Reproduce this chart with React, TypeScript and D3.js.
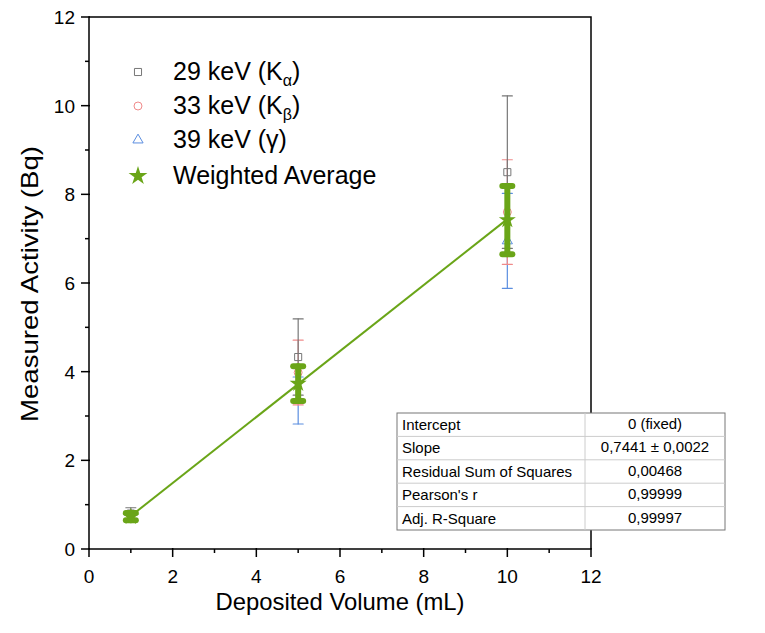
import React, { useEffect, useRef } from "react";
import * as d3 from "d3";

// deposited volume (mL)
const volumes = [1, 5, 10];

// measured activity (Bq) and errors
const kAlphaValues = [0.8, 4.33, 8.5];
const kAlphaErrors = [0.13, 0.86, 1.72];
const kBetaValues = [0.74, 3.98, 7.6];
const kBetaErrors = [0.1, 0.73, 1.18];
const gammaValues = [0.7, 3.35, 6.95];
const gammaErrors = [0.09, 0.53, 1.07];
const avgValues = [0.73, 3.73, 7.42];
const avgErrors = [0.08, 0.39, 0.77];

const fitSlope = 0.7441;

const legendLabels = ["29 keV (K", "33 keV (K", "39 keV (", "Weighted Average"];

const tableRows = [
  ["Intercept", "0 (fixed)"],
  ["Slope", "0,7441 ± 0,0022"],
  ["Residual Sum of Squares", "0,00468"],
  ["Pearson's r", "0,99999"],
  ["Adj. R-Square", "0,99997"],
];

const xTicks = [0, 2, 4, 6, 8, 10, 12];
const yTicks = [0, 2, 4, 6, 8, 10, 12];

const FONT = "Liberation Sans, Arial, sans-serif";

export default function App() {
  const svgRef = useRef<SVGSVGElement>(null);

  useEffect(() => {
    const width = 765;
    const height = 633;
    const margin = { top: 17, right: 174, bottom: 84, left: 89 };

    const svg = d3.select(svgRef.current);
    svg.selectAll("*").remove();
    svg.attr("width", width).attr("height", height);

    const x = d3.scaleLinear().domain([0, 12]).range([margin.left, width - margin.right]);
    const y = d3.scaleLinear().domain([0, 12]).range([height - margin.bottom, margin.top]);

    // frame
    svg.append("rect")
      .attr("x", x(0))
      .attr("y", y(12))
      .attr("width", x(12) - x(0))
      .attr("height", y(0) - y(12))
      .attr("fill", "none")
      .attr("stroke", "#000")
      .attr("stroke-width", 1.5);

    // bottom axis
    const xAxis = svg.append("g").attr("transform", `translate(0, ${y(0)})`);
    xAxis.selectAll("line.minor")
      .data(d3.range(1, 12, 2))
      .enter()
      .append("line")
      .attr("x1", d => x(d))
      .attr("x2", d => x(d))
      .attr("y1", 0)
      .attr("y2", 4)
      .attr("stroke", "#000")
      .attr("stroke-width", 1.5);
    xAxis.selectAll("line.major")
      .data(xTicks)
      .enter()
      .append("line")
      .attr("x1", d => x(d))
      .attr("x2", d => x(d))
      .attr("y1", -1)
      .attr("y2", 8)
      .attr("stroke", "#000")
      .attr("stroke-width", 1.5);
    xAxis.selectAll("text")
      .data(xTicks)
      .enter()
      .append("text")
      .attr("x", d => x(d))
      .attr("y", 34)
      .attr("text-anchor", "middle")
      .style("font-family", FONT)
      .style("font-size", "19px")
      .text(d => d);

    // left axis
    const yAxis = svg.append("g").attr("transform", `translate(${x(0)}, 0)`);
    yAxis.selectAll("line.minor")
      .data(d3.range(1, 12, 2))
      .enter()
      .append("line")
      .attr("x1", -4)
      .attr("x2", 0)
      .attr("y1", d => y(d))
      .attr("y2", d => y(d))
      .attr("stroke", "#000")
      .attr("stroke-width", 1.5);
    yAxis.selectAll("line.major")
      .data(yTicks)
      .enter()
      .append("line")
      .attr("x1", -8)
      .attr("x2", 1)
      .attr("y1", d => y(d))
      .attr("y2", d => y(d))
      .attr("stroke", "#000")
      .attr("stroke-width", 1.5);
    yAxis.selectAll("text")
      .data(yTicks)
      .enter()
      .append("text")
      .attr("x", -14)
      .attr("y", d => y(d) + 7)
      .attr("text-anchor", "end")
      .style("font-family", FONT)
      .style("font-size", "19px")
      .text(d => d);

    // axis titles
    svg.append("text")
      .attr("x", (x(0) + x(12)) / 2)
      .attr("y", 610)
      .attr("text-anchor", "middle")
      .attr("textLength", 249)
      .attr("lengthAdjust", "spacingAndGlyphs")
      .style("font-family", FONT)
      .style("font-size", "24px")
      .text("Deposited Volume (mL)");

    svg.append("text")
      .attr("text-anchor", "middle")
      .attr("transform", `translate(38, ${(y(0) + y(12)) / 2 + 1}) rotate(-90)`)
      .attr("textLength", 276)
      .attr("lengthAdjust", "spacingAndGlyphs")
      .style("font-family", FONT)
      .style("font-size", "24px")
      .text("Measured Activity (Bq)");

    // error bars
    const drawErrors = (vals, errs, color, capW, lw) => {
      const g = svg.append("g");
      volumes.forEach((v, i) => {
        const lo = y(vals[i] - errs[i]);
        const hi = y(vals[i] + errs[i]);
        g.append("line")
          .attr("x1", x(v)).attr("x2", x(v))
          .attr("y1", lo).attr("y2", hi)
          .attr("stroke", color).attr("stroke-width", lw)
          .attr("stroke-linecap", "round");
        [lo, hi].forEach(cy => {
          g.append("line")
            .attr("x1", x(v) - capW / 2).attr("x2", x(v) + capW / 2)
            .attr("y1", cy).attr("y2", cy)
            .attr("stroke", color).attr("stroke-width", lw)
            .attr("stroke-linecap", "round");
        });
      });
    };

    drawErrors(gammaValues, gammaErrors, "#5b8ee0", 10, 1.2);
    drawErrors(kBetaValues, kBetaErrors, "#f08a8a", 10, 1.2);
    drawErrors(kAlphaValues, kAlphaErrors, "#777", 10, 1.2);

    // small markers
    const squareSym = d3.symbol().type(d3.symbolSquare).size(50);
    const circleSym = d3.symbol().type(d3.symbolCircle).size(50);
    const triSym = d3.symbol().type(d3.symbolTriangle).size(45);

    const drawMarks = (vals, sym, color) => {
      svg.append("g").selectAll("path")
        .data(volumes)
        .enter()
        .append("path")
        .attr("d", sym)
        .attr("transform", (d, i) => `translate(${x(d)}, ${y(vals[i])})`)
        .attr("fill", "none")
        .attr("stroke", color)
        .attr("stroke-width", 1);
    };
    drawMarks(gammaValues, triSym, "#5b8ee0");
    drawMarks(kBetaValues, circleSym, "#f08a8a");
    drawMarks(kAlphaValues, squareSym, "#777");

    // weighted average bars
    drawErrors(avgValues, avgErrors, "#6aa518", 10, 6);

    // fit line
    svg.append("line")
      .attr("x1", x(1)).attr("y1", y(fitSlope * 1))
      .attr("x2", x(10)).attr("y2", y(fitSlope * 10))
      .attr("stroke", "#6aa518")
      .attr("stroke-width", 2);

    const starSym = d3.symbol().type(d3.symbolStar).size(90);
    svg.append("g").selectAll("path")
      .data(volumes)
      .enter()
      .append("path")
      .attr("d", starSym)
      .attr("transform", (d, i) => `translate(${x(d)}, ${y(avgValues[i])})`)
      .attr("fill", "#6aa518");

    // legend
    const legendSyms = [squareSym, circleSym, triSym, starSym];
    const legendColors = ["#777", "#f08a8a", "#5b8ee0", "#6aa518"];
    const legendSubs = ["α", "β", "", ""];
    const legendY = [72, 106, 140, 176];
    legendLabels.forEach((lab, i) => {
      svg.append("path")
        .attr("d", i === 3 ? d3.symbol().type(d3.symbolStar).size(110)() : legendSyms[i]())
        .attr("transform", `translate(138, ${legendY[i]})`)
        .attr("fill", i === 3 ? legendColors[i] : "none")
        .attr("stroke", i === 3 ? "none" : legendColors[i])
        .attr("stroke-width", 1);
      const t = svg.append("text")
        .attr("x", 173)
        .attr("y", legendY[i] + 8)
        .style("font-family", FONT)
        .style("font-size", "25px");
      t.append("tspan").text(lab);
      if (i < 2) {
        t.append("tspan").attr("dy", 6).style("font-size", "16px").text(legendSubs[i]);
        t.append("tspan").attr("dy", -6).text(")");
      } else if (i === 2) {
        t.append("tspan").text("γ)");
      }
    });

    // fit table
    const tx = 397, tw = 328, colX = 585, rowH = 23.4, ty = 413;
    const tbl = svg.append("g");
    tbl.append("rect")
      .attr("x", tx).attr("y", ty)
      .attr("width", tw).attr("height", rowH * tableRows.length)
      .attr("fill", "#fff")
      .attr("stroke", "#777").attr("stroke-width", 1);
    tableRows.forEach((row, i) => {
      if (i > 0) {
        tbl.append("line")
          .attr("x1", tx).attr("x2", tx + tw)
          .attr("y1", ty + rowH * i).attr("y2", ty + rowH * i)
          .attr("stroke", "#ccc");
      }
      tbl.append("text")
        .attr("x", tx + 5)
        .attr("y", ty + rowH * i + 17)
        .style("font-family", FONT)
        .style("font-size", "15px")
        .text(row[0]);
      tbl.append("text")
        .attr("x", (colX + tx + tw) / 2)
        .attr("y", ty + rowH * i + 16)
        .attr("text-anchor", "middle")
        .style("font-family", FONT)
        .style("font-size", "15px")
        .text(row[1]);
    });
    tbl.append("line")
      .attr("x1", colX).attr("x2", colX)
      .attr("y1", ty).attr("y2", ty + rowH * tableRows.length)
      .attr("stroke", "#ccc");
  }, []);

  return (
    <div style={{ width: 765, height: 633, position: "absolute", left: 0, top: 0, background: "#fff" }}>
      <svg ref={svgRef} style={{ display: "block" }}></svg>
    </div>
  );
}
